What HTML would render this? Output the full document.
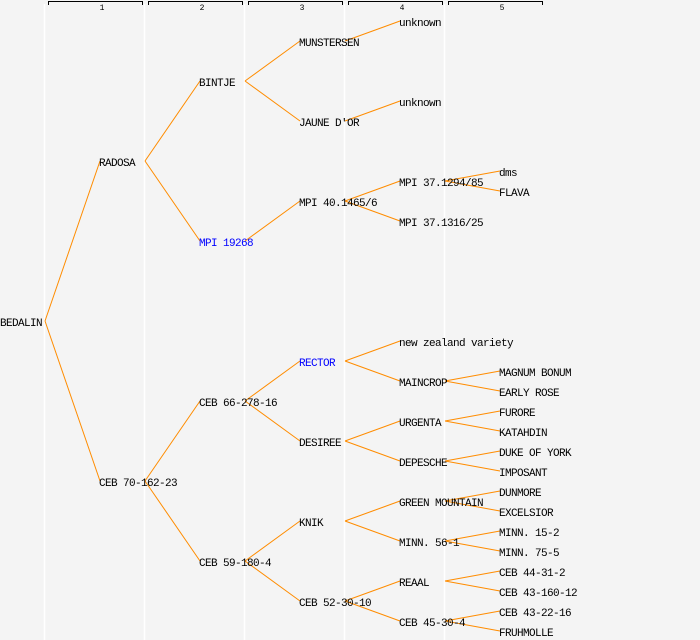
<!DOCTYPE html>
<html><head><meta charset="utf-8"><style>
html,body{margin:0;padding:0;background:#f4f4f4;}
svg{display:block}
text{font-family:"Liberation Mono","DejaVu Sans Mono",monospace;font-size:11px;letter-spacing:-0.6px;fill:#000}
.h{font-size:8px;letter-spacing:0}
</style></head><body>
<svg width="700" height="640" xmlns="http://www.w3.org/2000/svg">
<rect width="700" height="640" fill="#f4f4f4"/>
<g stroke="#fff" stroke-width="1.5">
<line x1="44.5" y1="4" x2="44.5" y2="640"/><line x1="144.5" y1="4" x2="144.5" y2="640"/><line x1="244.5" y1="4" x2="244.5" y2="640"/><line x1="344.5" y1="4" x2="344.5" y2="640"/><line x1="444.5" y1="4" x2="444.5" y2="640"/>
</g>
<g stroke="#000" stroke-width="1" fill="none">
<path d="M48.5,5V1.5H142.5V5"/><path d="M148.5,5V1.5H242.5V5"/><path d="M248.5,5V1.5H342.5V5"/><path d="M348.5,5V1.5H442.5V5"/><path d="M448.5,5V1.5H542.5V5"/>
</g>
<g class="h" text-anchor="middle"><text class="h" x="102" y="10">1</text><text class="h" x="202" y="10">2</text><text class="h" x="302" y="10">3</text><text class="h" x="402" y="10">4</text><text class="h" x="502" y="10">5</text></g>
<g stroke="#ff8c00" stroke-width="1" fill="none">
<path d="M45,321L100,161M45,321L100,481"/>
<path d="M145,161L200,81M145,161L200,241M145,481L200,401M145,481L200,561"/>
<path d="M245,81L300,41M245,81L300,121M245,241L300,201M245,401L300,361M245,401L300,441M245,561L300,521M245,561L300,601"/>
<path d="M345,41L400,21M345,121L400,101M345,201L400,181M345,201L400,221M345,361L400,341M345,361L400,381M345,441L400,421M345,441L400,461M345,521L400,501M345,521L400,541M345,601L400,581M345,601L400,621"/>
<path d="M445,181L500,171M445,181L500,191M445,381L500,371M445,381L500,391M445,421L500,411M445,421L500,431M445,461L500,451M445,461L500,471M445,501L500,491M445,501L500,511M445,541L500,531M445,541L500,551M445,581L500,571M445,581L500,591M445,621L500,611M445,621L500,631"/>
</g>
<g transform="translate(0,1)">
<text x="0" y="325">BEDALIN</text>
<text x="99" y="165">RADOSA</text><text x="99" y="485">CEB 70-162-23</text>
<text x="199" y="85">BINTJE</text><text x="199" y="245" style="fill:#00f">MPI 19268</text><text x="199" y="405">CEB 66-278-16</text><text x="199" y="565">CEB 59-180-4</text>
<text x="299" y="45">MUNSTERSEN</text><text x="299" y="125">JAUNE D'OR</text><text x="299" y="205">MPI 40.1465/6</text><text x="299" y="365" style="fill:#00f">RECTOR</text><text x="299" y="445">DESIREE</text><text x="299" y="525">KNIK</text><text x="299" y="605">CEB 52-30-10</text>
<text x="399" y="25">unknown</text><text x="399" y="105">unknown</text><text x="399" y="185">MPI 37.1294/85</text><text x="399" y="225">MPI 37.1316/25</text><text x="399" y="345">new zealand variety</text><text x="399" y="385">MAINCROP</text><text x="399" y="425">URGENTA</text><text x="399" y="465">DEPESCHE</text><text x="399" y="505">GREEN MOUNTAIN</text><text x="399" y="545">MINN. 56-1</text><text x="399" y="585">REAAL</text><text x="399" y="625">CEB 45-30-4</text>
<text x="499" y="175">dms</text><text x="499" y="195">FLAVA</text><text x="499" y="375">MAGNUM BONUM</text><text x="499" y="395">EARLY ROSE</text><text x="499" y="415">FURORE</text><text x="499" y="435">KATAHDIN</text><text x="499" y="455">DUKE OF YORK</text><text x="499" y="475">IMPOSANT</text><text x="499" y="495">DUNMORE</text><text x="499" y="515">EXCELSIOR</text><text x="499" y="535">MINN. 15-2</text><text x="499" y="555">MINN. 75-5</text><text x="499" y="575">CEB 44-31-2</text><text x="499" y="595">CEB 43-160-12</text><text x="499" y="615">CEB 43-22-16</text><text x="499" y="635">FRUHMOLLE</text>
</g>
</svg>
</body></html>
